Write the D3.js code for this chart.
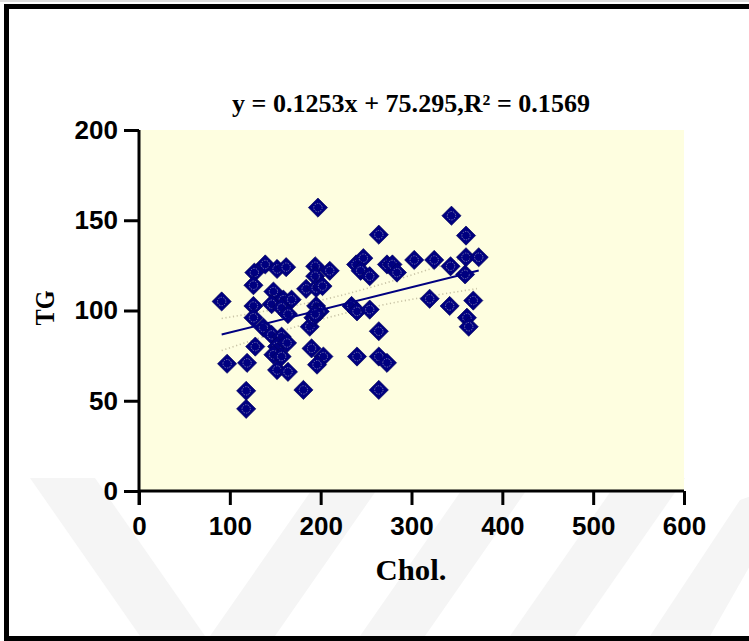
<!DOCTYPE html>
<html><head><meta charset="utf-8">
<script src="https://cdn.jsdelivr.net/npm/d3@7"></script>
<style>html,body{margin:0;padding:0;background:#fff;}svg{display:block;}</style>
</head><body>
<svg id="chart" width="749" height="641"></svg>
<script>
// ---- data ----
const chol = [91, 97, 119, 118, 118, 127, 139, 152, 162, 126, 194, 210, 194, 184, 195, 202, 239, 247, 244, 254,
  273, 148, 159, 168, 146, 157, 126, 164, 195, 199, 234, 240, 254, 126, 137, 146, 157, 188, 192, 264,
  128, 152, 163, 148, 157, 190, 203, 196, 152, 164, 240, 264, 273, 181, 264, 197, 264, 344, 360, 279,
  284, 303, 325, 343, 360, 374, 359, 320, 342, 368, 361, 363, 194];
const tg = [105, 70.5, 71, 55.5, 45.5, 121, 125.5, 123, 124, 114, 124.5, 122, 119, 112, 112.5, 113.5, 125.5, 129, 122, 119,
  125.5, 110.5, 106, 106, 103.5, 101.5, 102.5, 98, 102.5, 99.5, 102.5, 99.5, 100.5, 96, 90.5, 86.5, 85.5, 91, 96, 88.5,
  80, 80, 82, 75.5, 74.5, 79, 74.5, 70, 67, 66, 74.5, 74.5, 71, 56, 56, 157, 142, 152.5, 141.5, 125.5,
  121, 128, 128, 124.5, 129.5, 129.5, 120, 106.5, 102.5, 105.5, 96, 91, 98];
const slope = 0.1253, intercept = 75.295, r2 = 0.1569;
const bandX = [91, 130, 170, 222, 270, 320, 372];
const bandUpper = [95.6, 98.9, 102.6, 108.3, 115.0, 122.9, 131.7];
const bandLower = [77.8, 84.3, 90.6, 97.9, 103.3, 107.9, 112.1];
const xTicks = [0, 100, 200, 300, 400, 500, 600];
const yTicks = [0, 50, 100, 150, 200];
const titleText = "y = " + slope + "x + " + intercept + ",R\u00B2 = " + r2;
const xLabel = "Chol.", yLabel = "TG";

// ---- layout ----
const svg = d3.select("#chart");
const X0 = 139, X1 = 684, Y0 = 491, Y1 = 130;
const x = d3.scaleLinear().domain([0, 600]).range([X0, X1]);
const y = d3.scaleLinear().domain([0, 200]).range([Y0, Y1]);

// watermark-like faint chevrons in lower area
const wm = svg.append("g").attr("fill", "#f5f5f5");
const stripes = [
  [[30,478],[95,478],[205,636],[140,636]],
  [[320,478],[385,478],[275,636],[210,636]],
  [[470,478],[535,478],[425,636],[360,636]],
  [[620,478],[685,478],[575,636],[510,636]],
  [[740,500],[800,478],[710,636],[650,636]]
];
stripes.forEach(s => wm.append("polygon").attr("points", s.map(p => p.join(",")).join(" ")));

// plot background
svg.append("rect").attr("x", X0).attr("y", Y1).attr("width", X1 - X0).attr("height", Y0 - Y1).attr("fill", "#fefee0");

// frame
const frame = svg.append("g").attr("stroke", "#000").attr("stroke-width", 5).attr("fill", "none");
frame.append("line").attr("x1", 4).attr("x2", 749).attr("y1", 6.5).attr("y2", 6.5);
frame.append("line").attr("x1", 6.5).attr("x2", 6.5).attr("y1", 4).attr("y2", 641);
frame.append("line").attr("x1", 4).attr("x2", 749).attr("y1", 638.5).attr("y2", 638.5);
svg.append("line").attr("x1", 0).attr("x2", 749).attr("y1", 1).attr("y2", 1).attr("stroke", "#bbb").attr("stroke-width", 1);

// confidence band (dotted)
const bandLine = d3.line().curve(d3.curveMonotoneX);
[bandUpper, bandLower].forEach(arr => {
  svg.append("path")
    .attr("d", bandLine(bandX.map((v, i) => [x(v), y(arr[i])])))
    .attr("fill", "none").attr("stroke", "#c9c4a6").attr("stroke-width", 1.6)
    .attr("stroke-dasharray", "1.2,2.6");
});

// points: navy diamonds with faint inner circle
const pts = svg.append("g");
chol.forEach((c, i) => {
  const g = pts.append("g").attr("transform", `translate(${x(c)},${y(tg[i])})`);
  g.append("path").attr("d", d3.symbol(d3.symbolSquare, 185)()).attr("transform", "rotate(45)")
    .attr("fill", "#000080").attr("stroke", "#00005a").attr("stroke-width", 0.6);
  g.append("circle").attr("r", 4.2).attr("fill", "none").attr("stroke", "#8e8eb8")
    .attr("stroke-width", 0.8).attr("stroke-dasharray", "1.4,1.2");
});

// regression line
const xmin = d3.min(chol), xmax = d3.max(chol);
svg.append("line").attr("x1", x(xmin)).attr("y1", y(slope * xmin + intercept))
  .attr("x2", x(xmax)).attr("y2", y(slope * xmax + intercept))
  .attr("stroke", "#000080").attr("stroke-width", 2);

// axes
const tickFont = "'Liberation Sans', Arial, sans-serif";
const xAxis = svg.append("g").attr("transform", `translate(0,${Y0})`)
  .call(d3.axisBottom(x).tickValues(xTicks).tickSize(14).tickPadding(12).tickFormat(d3.format("d")));
const yAxis = svg.append("g").attr("transform", `translate(${X0},0)`)
  .call(d3.axisLeft(y).tickValues(yTicks).tickSize(15).tickPadding(6).tickFormat(d3.format("d")));
[xAxis, yAxis].forEach(a => {
  a.select(".domain").attr("stroke", "#000").attr("stroke-width", 3);
  a.selectAll(".tick line").attr("stroke", "#000").attr("stroke-width", 3);
  a.selectAll(".tick text").attr("fill", "#000").style("font-family", tickFont)
    .style("font-size", "26px").style("font-weight", "bold");
});
xAxis.select(".domain").attr("d", `M${X0},0H${X1}`);
yAxis.select(".domain").attr("d", `M0,${Y1}V${Y0}`);
// y axis continues below zero (cross at the origin)
svg.append("line").attr("x1", X0).attr("x2", X0).attr("y1", Y0).attr("y2", Y0 + 14).attr("stroke", "#000").attr("stroke-width", 3);

// texts
const serif = "'Liberation Serif', 'Times New Roman', serif";
svg.append("text").attr("x", 411).attr("y", 112).attr("text-anchor", "middle")
  .attr("textLength", 358).attr("lengthAdjust", "spacingAndGlyphs")
  .style("font-family", serif).style("font-weight", "bold").style("font-size", "25px").text(titleText);
svg.append("text").attr("x", 411).attr("y", 580).attr("text-anchor", "middle")
  .attr("textLength", 71).attr("lengthAdjust", "spacingAndGlyphs")
  .style("font-family", serif).style("font-weight", "bold").style("font-size", "29px").text(xLabel);
svg.append("text").attr("transform", "translate(54,308) rotate(-90)").attr("text-anchor", "middle")
  .attr("textLength", 35).attr("lengthAdjust", "spacingAndGlyphs")
  .style("font-family", serif).style("font-weight", "bold").style("font-size", "28px").text(yLabel);
</script>
</body></html>
